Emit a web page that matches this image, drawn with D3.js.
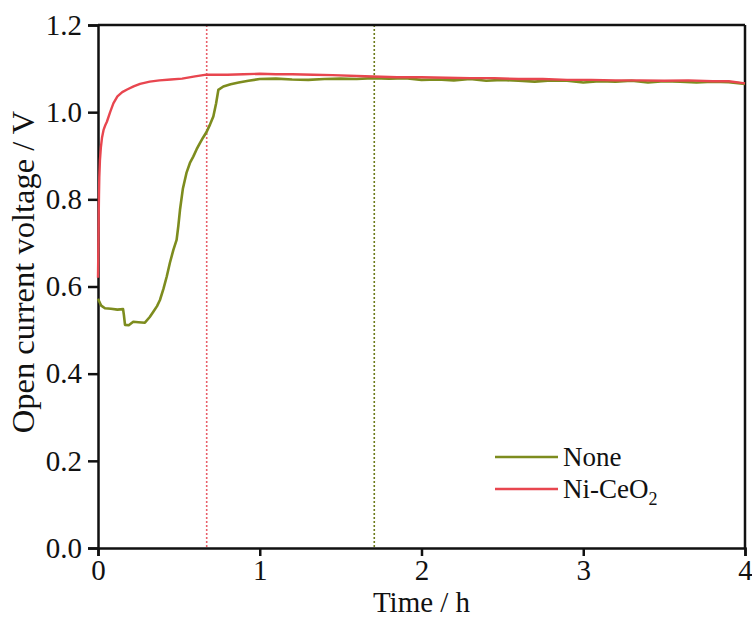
<!DOCTYPE html>
<html>
<head>
<meta charset="utf-8">
<script src="https://cdnjs.cloudflare.com/ajax/libs/d3/7.8.5/d3.min.js"></script>
<style>
  body { margin: 0; background: #fff; }
  svg, text { font-family: "Liberation Serif", "Times New Roman", serif; fill: #111; }
</style>
</head>
<body>
<script>
/* DATA */
const noneTime = [0, 0.02, 0.043, 0.08, 0.12, 0.155, 0.16, 0.167, 0.19, 0.218, 0.25, 0.29, 0.32, 0.342, 0.365, 0.383,
  0.405, 0.425, 0.445, 0.466, 0.486, 0.497, 0.507, 0.525, 0.548, 0.57, 0.589, 0.61, 0.63, 0.65, 0.672, 0.693, 0.713,
  0.73, 0.744, 0.775, 0.82, 0.87, 0.93, 1.0, 1.1, 1.2, 1.3, 1.4, 1.5, 1.6, 1.7, 1.8, 1.9, 2.0, 2.1, 2.2, 2.3, 2.4,
  2.5, 2.6, 2.7, 2.8, 2.9, 3.0, 3.1, 3.2, 3.3, 3.4, 3.5, 3.6, 3.7, 3.8, 3.9, 4.0];
const noneVolt = [0.572, 0.556, 0.550, 0.549, 0.547, 0.548, 0.535, 0.512, 0.511, 0.519, 0.518, 0.517, 0.530, 0.542,
  0.555, 0.569, 0.595, 0.623, 0.655, 0.684, 0.707, 0.74, 0.776, 0.825, 0.862, 0.885, 0.898, 0.915, 0.929, 0.942,
  0.955, 0.972, 0.99, 1.02, 1.051, 1.059, 1.064, 1.068, 1.072, 1.076, 1.077, 1.075, 1.074, 1.076, 1.077, 1.076,
  1.078, 1.077, 1.078, 1.074, 1.075, 1.073, 1.076, 1.072, 1.074, 1.072, 1.070, 1.073, 1.072, 1.068, 1.071, 1.070,
  1.072, 1.068, 1.071, 1.070, 1.068, 1.070, 1.069, 1.065];

const ceoTime = [0, 0.002, 0.004, 0.006, 0.008, 0.012, 0.018, 0.025, 0.035, 0.045, 0.055, 0.075, 0.095, 0.12, 0.15,
  0.18, 0.22, 0.26, 0.32, 0.38, 0.45, 0.52, 0.6, 0.67, 0.8, 0.9, 1.0, 1.1, 1.2, 1.33, 1.45, 1.6, 1.7, 1.85, 2.0,
  2.15, 2.3, 2.45, 2.6, 2.75, 2.9, 3.05, 3.2, 3.35, 3.5, 3.65, 3.8, 3.9, 4.0];
const ceoVolt = [0.62, 0.68, 0.75, 0.81, 0.85, 0.89, 0.92, 0.942, 0.96, 0.97, 0.978, 1.0, 1.02, 1.036, 1.046, 1.052,
  1.059, 1.065, 1.070, 1.073, 1.075, 1.077, 1.082, 1.086, 1.086, 1.087, 1.088, 1.087, 1.087, 1.086, 1.085, 1.083,
  1.082, 1.080, 1.080, 1.079, 1.078, 1.078, 1.076, 1.076, 1.074, 1.074, 1.073, 1.073, 1.072, 1.073, 1.071, 1.071,
  1.066];

const markTimes = [0.672, 1.708];   // dotted guide lines
const xTicks = [0, 1, 2, 3, 4];
const yTicks = [0, 0.2, 0.4, 0.6, 0.8, 1.0, 1.2];
const seriesNames = ["None", "Ni-CeO2"];

/* LAYOUT */
const WIDTH = 752, HEIGHT = 617;
const PLOT = { left: 98, right: 745, top: 25, bottom: 548 };
const green = "#7d8c1e", red = "#e8464f";
const SERIF = "'Liberation Serif', 'Times New Roman', serif";

const svg = d3.select("body").append("svg")
  .attr("width", WIDTH)
  .attr("height", HEIGHT);

const x = d3.scaleLinear().domain([0, 4]).range([PLOT.left, PLOT.right]);
const y = d3.scaleLinear().domain([0, 1.2]).range([PLOT.bottom, PLOT.top]);

// guide lines
svg.append("line")
  .attr("x1", x(markTimes[0])).attr("x2", x(markTimes[0]))
  .attr("y1", PLOT.top).attr("y2", PLOT.bottom)
  .attr("stroke", "#e8606a").attr("stroke-width", 1.6)
  .attr("stroke-dasharray", "2,2");
svg.append("line")
  .attr("x1", x(markTimes[1])).attr("x2", x(markTimes[1]))
  .attr("y1", PLOT.top).attr("y2", PLOT.bottom)
  .attr("stroke", "#6b7a1a").attr("stroke-width", 1.6)
  .attr("stroke-dasharray", "2,2");

// axes
const xAxis = svg.append("g")
  .attr("transform", `translate(0,${PLOT.bottom})`)
  .call(d3.axisBottom(x).tickValues(xTicks).tickFormat(d3.format("d")).tickSize(8).tickPadding(3));
const yAxis = svg.append("g")
  .attr("transform", `translate(${PLOT.left},0)`)
  .call(d3.axisLeft(y).tickValues(yTicks).tickFormat(d3.format(".1f")).tickSize(10).tickPadding(6));

[xAxis, yAxis].forEach(g => {
  g.attr("font-family", SERIF).attr("font-size", 29);
  g.select(".domain").attr("stroke", "#111").attr("stroke-width", 2.5);
  g.selectAll(".tick line").attr("stroke", "#111").attr("stroke-width", 2.5);
  g.selectAll(".tick text")
    .attr("fill", "#111")
    .style("font-family", SERIF)
    .style("font-size", "29px");
});
xAxis.selectAll(".tick text").attr("dy", "0.74em");

// top and right frame
svg.append("line").attr("x1", PLOT.left).attr("x2", PLOT.right).attr("y1", PLOT.top).attr("y2", PLOT.top)
  .attr("stroke", "#111").attr("stroke-width", 2.5);
svg.append("line").attr("x1", PLOT.right).attr("x2", PLOT.right).attr("y1", PLOT.top).attr("y2", PLOT.bottom)
  .attr("stroke", "#111").attr("stroke-width", 2.5);

// curves, over the axes
const line = d3.line()
  .x(d => x(d[0]))
  .y(d => y(d[1]));

svg.append("path")
  .datum(noneTime.map((t, i) => [t, noneVolt[i]]))
  .attr("fill", "none")
  .attr("stroke", green)
  .attr("stroke-width", 2.6)
  .attr("stroke-linejoin", "round")
  .attr("d", line);

svg.append("path")
  .datum(ceoTime.map((t, i) => [t, ceoVolt[i]]))
  .attr("fill", "none")
  .attr("stroke", red)
  .attr("stroke-width", 2.4)
  .attr("stroke-linejoin", "round")
  .attr("d", line);

// axis titles
svg.append("text")
  .attr("x", x(2)).attr("y", 612)
  .attr("text-anchor", "middle")
  .style("font-size", "29px")
  .text("Time / h");

svg.append("text")
  .attr("transform", "translate(34,272) rotate(-90)")
  .attr("text-anchor", "middle")
  .style("font-size", "32.5px")
  .text("Open current voltage / V");

// legend
const legend = svg.append("g");
[green, red].forEach((c, i) => {
  const ly = 457 + i * 32;
  legend.append("line")
    .attr("x1", 495).attr("x2", 558).attr("y1", ly).attr("y2", ly)
    .attr("stroke", c).attr("stroke-width", 2.6);
  const t = legend.append("text")
    .attr("x", 563).attr("y", ly + 9)
    .style("font-size", "27px");
  if (seriesNames[i] === "Ni-CeO2") {
    t.append("tspan").text("Ni-CeO");
    t.append("tspan").attr("dy", 7).style("font-size", "18px").text("2");
  } else {
    t.text(seriesNames[i]);
  }
});
</script>
</body>
</html>
